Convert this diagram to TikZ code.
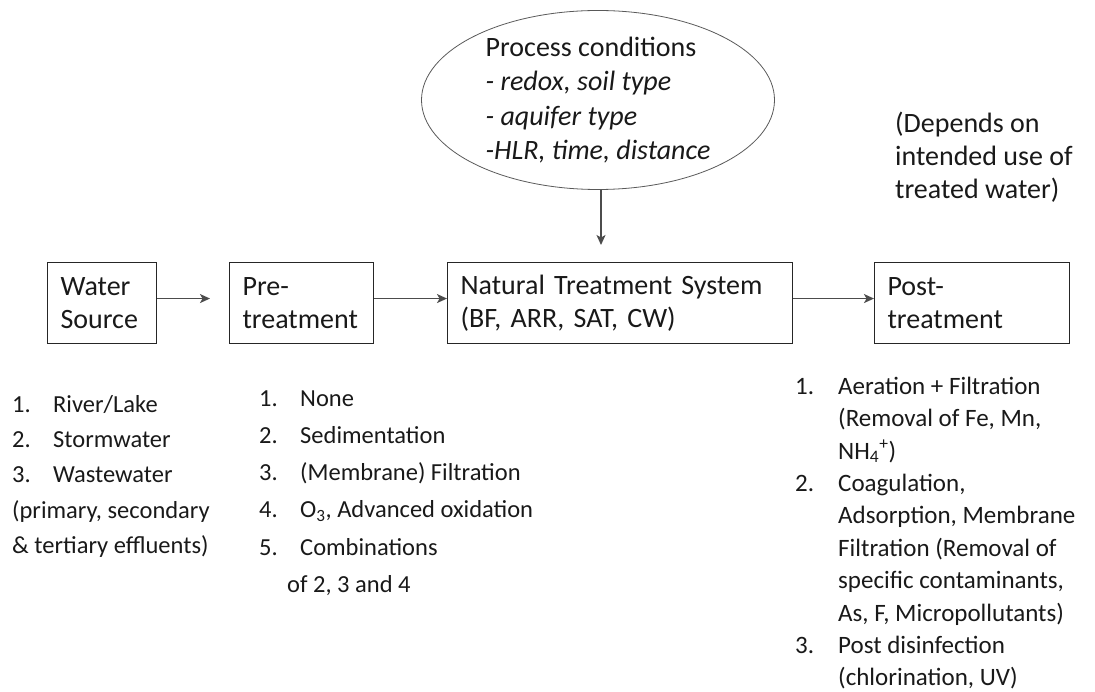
\documentclass[tikz,border=0pt]{standalone}
\usepackage{fontspec}
\setmainfont{Carlito}
\usetikzlibrary{arrows.meta,shapes.geometric}
\newcommand{\firstline}{\rule{0pt}{24pt}}
\tikzset{
  stage/.style={draw=black!85, line width=1.1pt, minimum height=81pt,
    inner xsep=13pt, inner ysep=0pt, align=left, anchor=north west,
    font=\fontsize{28}{33}\selectfont, text=black!90},
  conditions/.style={ellipse, draw=black!65, line width=0.8pt,
    minimum width=353pt, minimum height=179pt, inner sep=0pt, align=left,
    font=\fontsize{28}{34.3}\selectfont, text=black!90},
  options/.style={anchor=north west, inner sep=0pt, align=left, text=black!90},
  flow/.style={draw=black!70, line width=1.3pt,
    -{Stealth[length=10pt,width=9pt,inset=2.5pt]}}
}
\begin{document}
\begin{tikzpicture}[x=1pt,y=-1pt]
  \useasboundingbox (0,0) rectangle (1095,692);
  \node[stage, text width=83pt] (source) at (47,262) {Water\\Source};
  \node[stage, text width=118pt] (pre) at (229,262) {Pre-\\treatment};
  \node[stage, text width=319pt] (nts) at (447,262) {Natural Treatment System\\(BF, ARR, SAT, CW)};
  \node[stage, text width=169pt] (post) at (874,262) {Post-\\treatment};
  \node[conditions] (cond) at (598,100) {Process conditions\\
    \textit{- redox, soil type}\\
    \textit{- aquifer type}\\
    \textit{-HLR, time, distance}};
  \node[options, font=\fontsize{28}{33}\selectfont] (use) at (895,108)
    {\firstline(Depends on\\intended use of\\treated water)};
  \node[options, font=\fontsize{24.5}{35.3}\selectfont] (sources) at (12,388)
    {\firstline\makebox[41pt][l]{1.}River/Lake\\
     \makebox[41pt][l]{2.}Stormwater\\
     \makebox[41pt][l]{3.}Wastewater\\
     (primary, secondary\\
     \& tertiary effluents)};
  \node[options, font=\fontsize{24.5}{37.2}\selectfont] (pres) at (259,382)
    {\firstline\makebox[41pt][l]{1.}None\\
     \makebox[41pt][l]{2.}Sedimentation\\
     \makebox[41pt][l]{3.}(Membrane) Filtration\\
     \makebox[41pt][l]{4.}O\textsubscript{3}, Advanced oxidation\\
     \makebox[41pt][l]{5.}Combinations\\
     \hspace*{28pt}of 2, 3 and 4};
  \node[options, font=\fontsize{25}{32.4}\selectfont] (posts) at (795,370)
    {\firstline\makebox[43pt][l]{1.}Aeration + Filtration\\
     \hspace*{43pt}(Removal of Fe, Mn,\\
     \hspace*{43pt}NH\textsubscript{4}\textsuperscript{+})\\
     \makebox[43pt][l]{2.}Coagulation,\\
     \hspace*{43pt}Adsorption, Membrane\\
     \hspace*{43pt}Filtration (Removal of\\
     \hspace*{43pt}specific contaminants,\\
     \hspace*{43pt}As, F, Micropollutants)\\
     \makebox[43pt][l]{3.}Post disinfection\\
     \hspace*{43pt}(chlorination, UV)};
  \begin{scope}[flow]
    \draw[shorten >=19pt] ([yshift=4.5pt]source.east) -- ([yshift=4.5pt]pre.west);
    \draw ([yshift=4.5pt]pre.east) -- ([yshift=4.5pt]nts.west);
    \draw ([yshift=4.5pt]nts.east) -- ([yshift=4.5pt]post.west);
    \draw[shorten >=17pt] ([xshift=3pt]cond.south) -- ([xshift=3pt]cond.south |- nts.north);
  \end{scope}
\end{tikzpicture}
\end{document}
